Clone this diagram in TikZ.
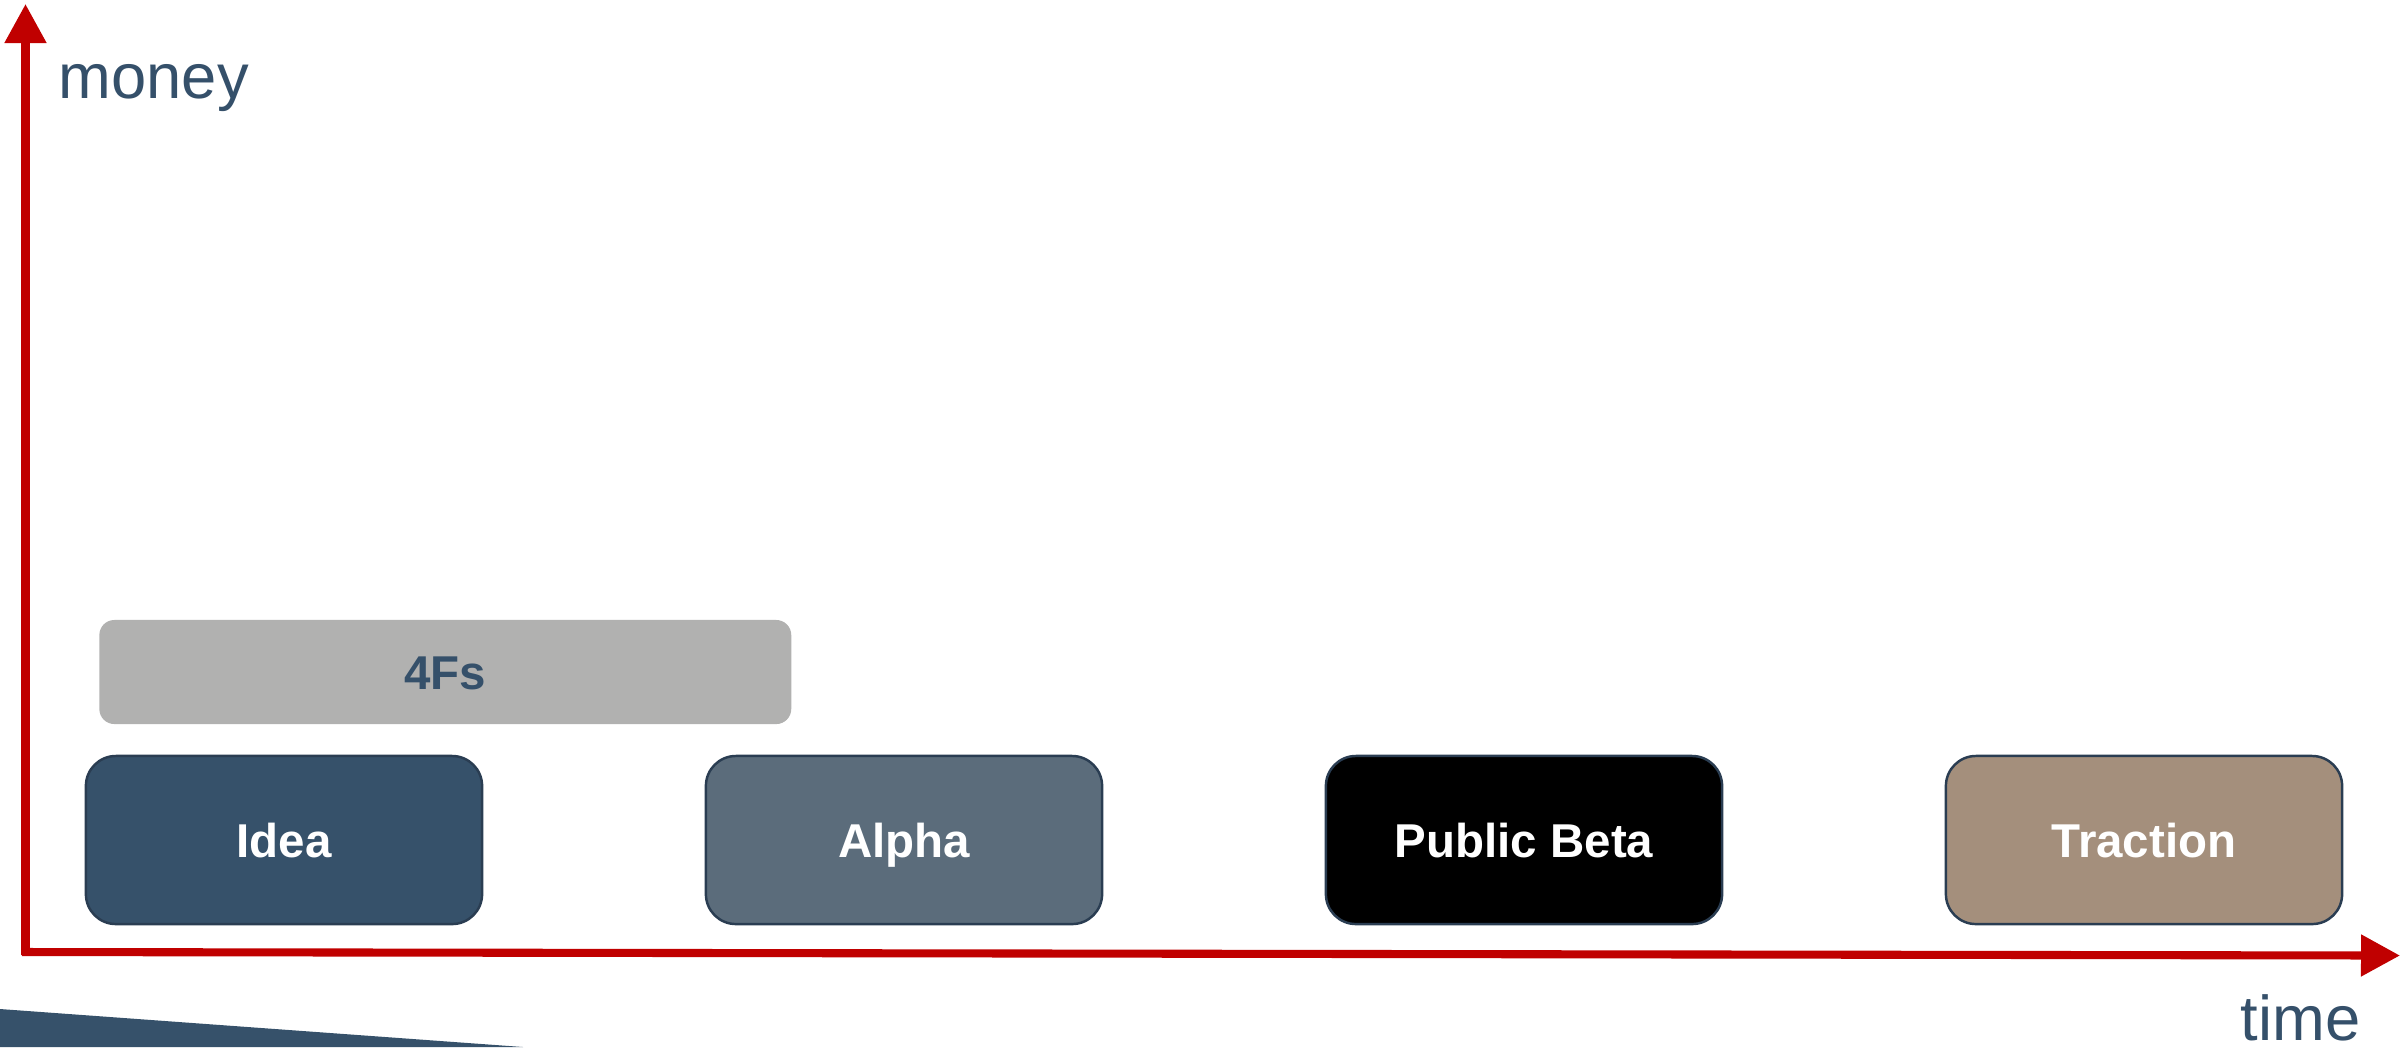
\documentclass[tikz,border=0pt]{standalone}
\usepackage{fontspec}
\setmainfont{Liberation Sans}
\usetikzlibrary{arrows.meta}
\definecolor{axisred}{HTML}{C00000}
\definecolor{inkblue}{HTML}{35506A}
\definecolor{ideablue}{HTML}{36516A}
\definecolor{alphagray}{HTML}{5B6C7B}
\definecolor{tractan}{HTML}{A48F7C}
\definecolor{ffgray}{HTML}{B1B1B0}
\definecolor{edgeblue}{HTML}{2A3D52}
\tikzset{
  stagebox/.style={draw=edgeblue, line width=0.7pt, rounded corners=0.3cm,
    minimum width=3.96cm, minimum height=1.68cm, inner sep=0pt,
    text height=0.34cm, text depth=0cm,
    text=white, font=\fontsize{13.5}{16}\selectfont\bfseries},
  axisline/.style={draw=axisred, line width=2.3pt,
    -{Triangle[length=0.39cm, width=0.40cm]}},
  axislabel/.style={text=inkblue, font=\fontsize{18}{22}\selectfont, inner sep=0pt}
}
\begin{document}
\begin{tikzpicture}[x=0.01cm, y=-0.01cm]
\useasboundingbox (0,0) rectangle (2400,1047);
% wedge at bottom left
\fill[ideablue] (0,1009) -- (523,1047) -- (0,1047) -- cycle;
% axes
\coordinate (ybase) at (25.5,955);
\coordinate (xbase) at (22,952);
\coordinate (ytip) at (25.5,4);
\coordinate (xtip) at (2400,955.5);
\draw[axisline] (ybase) -- (ytip);
\draw[axisline] (xbase) -- (xtip);
\node[axislabel, anchor=base west] (money) at (58,98) {money};
\node[axislabel, anchor=base west] (time) at (2240,1040) {time};
% 4Fs bar
\node[fill=ffgray, rounded corners=0.15cm, minimum width=6.915cm, minimum height=1.04cm,
  inner sep=0pt, text height=0.34cm, text depth=0cm,
  text=inkblue, font=\fontsize{13.5}{16}\selectfont\bfseries]
  (ffs) at (445.3,672) {4Fs};
% stages
\node[stagebox, fill=ideablue] (idea) at (284,840) {Idea};
\node[stagebox, fill=alphagray] (alpha) at (904,840) {Alpha};
\node[stagebox, fill=black] (beta) at (1524,840) {Public Beta};
\node[stagebox, fill=tractan] (traction) at (2144,840) {Traction};
\end{tikzpicture}
\end{document}
